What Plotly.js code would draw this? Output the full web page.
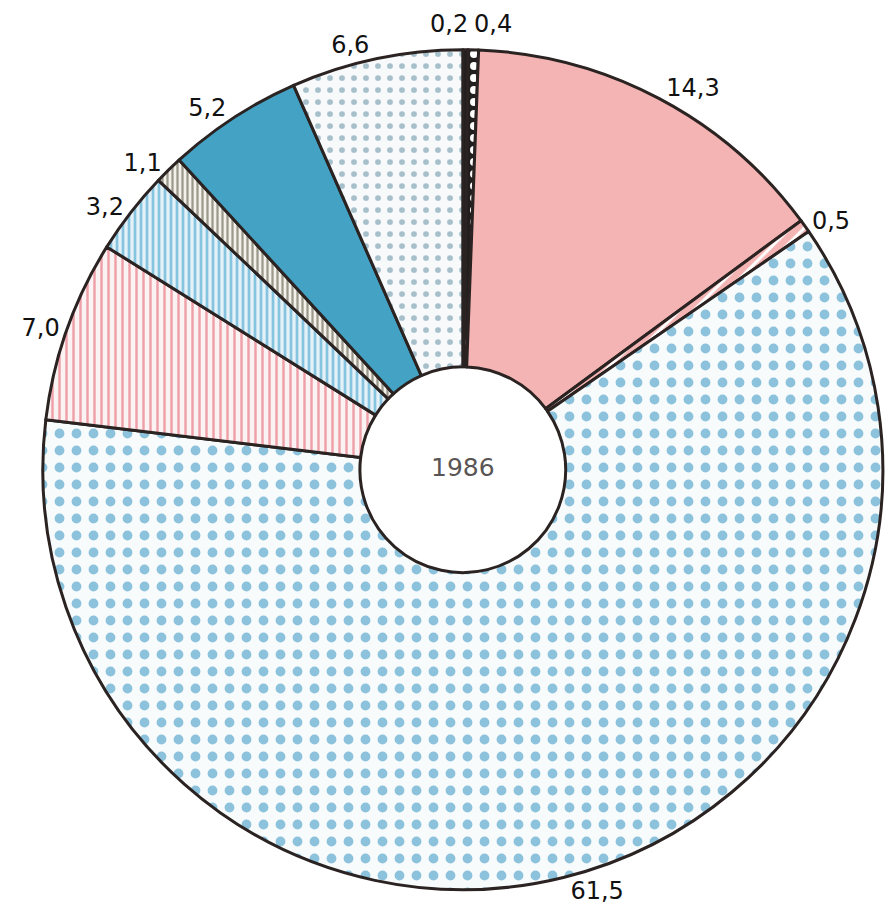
<!DOCTYPE html>
<html>
<head>
<meta charset="utf-8">
<script src="https://cdn.plot.ly/plotly-3.0.1.min.js"></script>
<style>html,body{margin:0;padding:0;background:#fff;}#chart{width:890px;height:921px;}</style>
</head>
<body>
<div id="chart"></div>
<script>
// Data (shares in %, 1986), clockwise from 12 o'clock
const categories = ["A", "B", "C", "D", "E", "F", "G", "H", "I", "J"];
const values = [0.2, 0.4, 14.3, 0.5, 61.5, 7.0, 3.2, 1.1, 5.2, 6.6];
const centerLabel = "1986";

// Styles
const bgColors = ["#231e1e", "#231e1e", "#f3b4b3", "#f3b4b3", "#f8fbfc", "#fbf3f3", "#e4f2f8", "#f4f1ea", "#44a3c4", "#f7f9fa"];
const fgColors = ["#231e1e", "#ffffff", "#f3b4b3", "#ffffff", "#8cc2dc", "#ef9fa8", "#86c3de", "#9a998c", "#44a3c4", "#a5bfcb"];
const shapes =   ["", ".", "", "/", ".", "|", "|", "|", "", "."];
const sizes =    [8, 12, 8, 10, 17, 7, 6, 5, 8, 12];
const solid =    [0.3, 0.35, 0.3, 0.3, 0.26, 0.35, 0.45, 0.45, 0.3, 0.18];

// the two thinnest top slices get their labels as annotations side by side
const annotated = [0, 1];

const W = 890, H = 921;
const dom = {x: [0.048, 0.992], y: [0.034, 0.946]};
const R = Math.min((dom.x[1] - dom.x[0]) * W, (dom.y[1] - dom.y[0]) * H) / 2;
const cx = (dom.x[0] + dom.x[1]) / 2, cy = (dom.y[0] + dom.y[1]) / 2;
const total = values.reduce((a, b) => a + b, 0);
const fmt = v => v.toFixed(1).replace(".", ",");

const templates = values.map((v, i) => annotated.includes(i) ? "" : "%{value:.1f}");
const labelFont = {family: "DejaVu Sans, Arial, sans-serif", size: 24, color: "#111"};

const annotations = [{
  text: centerLabel,
  x: cx, y: cy + 0.002, xref: "paper", yref: "paper",
  showarrow: false,
  font: {family: "DejaVu Sans, Arial, sans-serif", size: 25, color: "#5a5555"}
}];
let cum = 0;
values.forEach((v, i) => {
  const mid = (cum + v / 2) / total * 2 * Math.PI;
  cum += v;
  if (!annotated.includes(i)) return;
  const rr = R + 10;
  annotations.push({
    text: fmt(v),
    x: cx + rr * Math.sin(mid) / W,
    y: cy + rr * Math.cos(mid) / H,
    xref: "paper", yref: "paper",
    xanchor: i === annotated[0] ? "right" : "left",
    yanchor: "bottom",
    xshift: i === annotated[0] ? 4 : -2,
    showarrow: false,
    font: labelFont
  });
});

const trace = {
  type: "pie",
  labels: categories,
  values: values,
  sort: false,
  direction: "clockwise",
  rotation: 0,
  hole: 0.245,
  textposition: "outside",
  texttemplate: templates,
  textfont: labelFont,
  outsidetextfont: labelFont,
  showlegend: false,
  hoverinfo: "label+value",
  domain: dom,
  marker: {
    colors: bgColors,
    line: {color: "#2a2322", width: 3},
    pattern: {
      shape: shapes,
      fgcolor: fgColors,
      bgcolor: bgColors,
      size: sizes,
      solidity: solid,
      fillmode: "replace"
    }
  }
};

const layout = {
  width: W,
  height: H,
  margin: {l: 0, r: 0, t: 0, b: 0},
  paper_bgcolor: "#ffffff",
  plot_bgcolor: "#ffffff",
  separators: ", ",
  showlegend: false,
  annotations: annotations
};

Plotly.newPlot("chart", [trace], layout, {displayModeBar: false, staticPlot: true});
</script>
</body>
</html>
